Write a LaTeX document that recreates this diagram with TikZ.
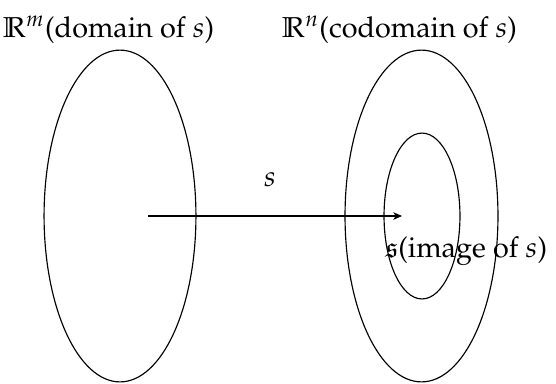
\documentclass[tikz,border=0pt]{standalone}
\usepackage[T1]{fontenc}
\usepackage{mathpazo}
\usepackage{amssymb}
\usepackage{tikz}
\usetikzlibrary{arrows.meta,shapes.geometric}

\begin{document}
\begin{tikzpicture}[x=0.0122cm, y=-0.0122cm,
  set/.style={draw, ellipse, inner sep=0pt, thin},
  map/.style={-{Stealth[length=3pt, width=2.6pt, inset=0.8pt]}, semithick},
  lbl/.style={anchor=base, inner sep=0pt}
]
\useasboundingbox (0,0) rectangle (556,383);
% the two spaces
\node[set, minimum width=1.854cm, minimum height=4.05cm] (dom) at (120,216) {};
\node[set, minimum width=1.867cm, minimum height=4.05cm] (cod) at (421.5,216) {};
\node[set, minimum width=0.927cm, minimum height=2.025cm] (img) at (422,216) {};

\node[lbl] (domlbl) at (108.5,37) {$\mathbb{R}^m$(domain of $s$)};
\node[lbl] (codlbl) at (399.5,37) {$\mathbb{R}^n$(codomain of $s$)};
\node[lbl, anchor=base west] (imglbl) at (385,257) {$\mathfrak{s}$(image of $s$)};

% the map
\coordinate (src) at (148,216);
\coordinate (dst) at (402,216);
\draw[map] (src) -- (dst);
\node[lbl] (slbl) at (270,186) {$s$};
\end{tikzpicture}
\end{document}
